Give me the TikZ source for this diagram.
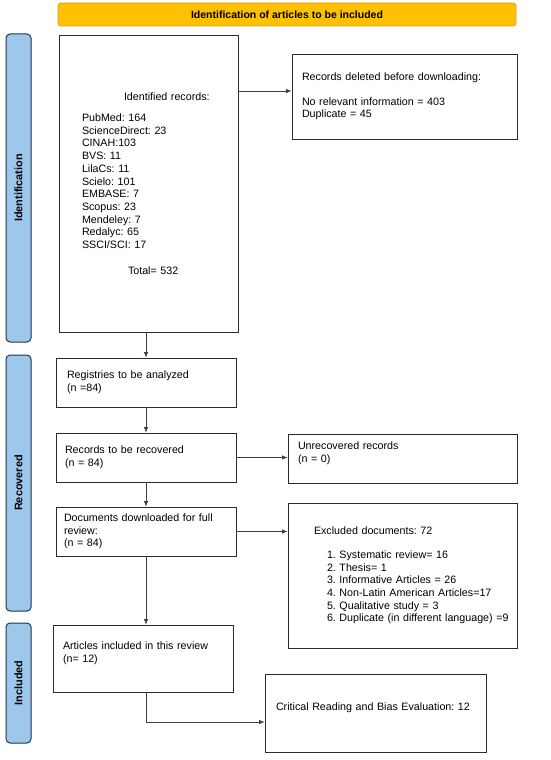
\documentclass[tikz,border=0pt]{standalone}
\usepackage{fontspec}
\setmainfont{Liberation Sans}
\usetikzlibrary{arrows.meta,positioning}
\definecolor{titlefill}{HTML}{FFC000}
\definecolor{titledraw}{HTML}{D9A21B}
\definecolor{sidefill}{HTML}{9DC8EC}
\definecolor{sidedraw}{HTML}{1F3550}
\definecolor{boxdraw}{HTML}{2B2B2B}
\frenchspacing
\hyphenpenalty=10000
\begin{document}
\begin{tikzpicture}[x=1pt,y=-1pt,
  every node/.style={font=\fontsize{10.7}{12.7}\selectfont},
  titlebar/.style={draw=titledraw, fill=titlefill, rounded corners=3pt, line width=0.8pt,
     minimum width=458pt, minimum height=23pt, inner sep=0pt, font=\fontsize{10.5}{12}\selectfont\bfseries},
  sidebar/.style={draw=sidedraw, fill=sidefill, rounded corners=4pt, line width=1pt,
     minimum width=25pt, inner sep=0pt},
  sidelabel/.style={rotate=90, font=\fontsize{10.9}{12}\selectfont\bfseries, inner sep=0pt},
  flowbox/.style={draw=boxdraw, line width=0.8pt, align=left, inner ysep=1pt},
  arr/.style={draw=boxdraw!90, line width=0.7pt, -{Latex[length=5.5pt,width=4.5pt]}}
]
\useasboundingbox (0,0) rectangle (550,760);
\fill[white] (0,0) rectangle (550,760);

% title
\node[titlebar] (title) at (287,14.5) {Identification of articles to be included};

% side bars
\node[sidebar, minimum height=308pt] (sideI) at (18.5,188) {};
\node[sidelabel] (labI) at (sideI.center) {Identification};
\node[sidebar, minimum height=256pt] (sideR) at (18.5,483) {};
\node[sidelabel] (labR) at (sideR.center) {Recovered};
\node[sidebar, minimum height=120pt] (sideN) at (18.5,683) {};
\node[sidelabel] (labN) at (sideN.center) {Included};

% boxes
\node[flowbox, minimum width=179pt, minimum height=297pt, inner xsep=23pt, text width=133pt] (ident) at (148.5,183.5)
 {\hspace*{42pt}Identified records:\\[8.5pt]
  PubMed: 164\\
  ScienceDirect: 23\\
  CINAH:103\\
  BVS: 11\\
  LilaCs: 11\\
  Scielo: 101\\
  EMBASE: 7\\
  Scopus: 23\\
  Mendeley: 7\\
  Redalyc: 65\\
  SSCI/SCI: 17\\[13pt]
  \hspace*{46pt}Total= 532};

\node[flowbox, minimum width=225pt, minimum height=85pt, inner xsep=10pt, text width=205pt] (deleted) at (404.5,96.5)
 {Records deleted before downloading:\\[12pt]
  No relevant information = 403\\
  Duplicate = 45};

\node[flowbox, minimum width=180pt, minimum height=49pt, inner xsep=11pt, text width=158pt] (reg) at (146,382.5)
 {Registries to be analyzed\\(n =84)};

\node[flowbox, minimum width=180pt, minimum height=49pt, inner xsep=9pt, text width=162pt] (rec) at (146,457.5)
 {Records to be recovered\\(n = 84)};

\node[flowbox, minimum width=229pt, minimum height=49pt, inner xsep=10pt, text width=209pt] (unrec) at (402.5,458.5)
 {Unrecovered records\\(n = 0)\\\mbox{}};

\node[flowbox, minimum width=180pt, minimum height=49pt, inner xsep=8pt, text width=164pt] (docs) at (146,531.5)
 {Documents downloaded for full\\review:\\(n = 84)};

\node[flowbox, minimum width=229pt, minimum height=145pt, inner xsep=5pt, text width=219pt] (excl) at (402.5,575.5)
 {\hspace*{21pt}Excluded documents: 72\\[11pt]
  \hspace*{34pt}1.\ Systematic review= 16\\
  \hspace*{34pt}2.\ Thesis= 1\\
  \hspace*{34pt}3.\ Informative Articles = 26\\
  \hspace*{34pt}4.\ Non-Latin American Articles=17\\
  \hspace*{34pt}5.\ Qualitative study = 3\\
  \hspace*{34pt}6.\ Duplicate (in different language) =9};

\node[flowbox, minimum width=180pt, minimum height=67pt, inner xsep=10pt, text width=160pt] (arts) at (143,658.5)
 {Articles included in this review\\(n= 12)\\\mbox{}};

\node[flowbox, minimum width=221pt, minimum height=78pt, inner xsep=11pt, text width=199pt] (crit) at (375.5,713)
 {Critical Reading and Bias Evaluation: 12\\\mbox{}};

% connectors
\draw[arr] ([yshift=5.5pt]deleted.west -| ident.east) -- ([yshift=5.5pt]deleted.west);
\draw[arr] (ident.south -| reg.north) -- (reg.north);
\draw[arr] (reg.south) -- (rec.north);
\draw[arr] (rec.east) -- (rec.east -| unrec.west);
\draw[arr] (rec.south) -- (docs.north);
\draw[arr] (docs.east) -- (docs.east -| excl.west);
\draw[arr] (docs.south) -- (docs.south |- arts.north);
\draw[arr] (docs.south |- arts.south) |- ([yshift=-9pt]crit.west);
\end{tikzpicture}
\end{document}
